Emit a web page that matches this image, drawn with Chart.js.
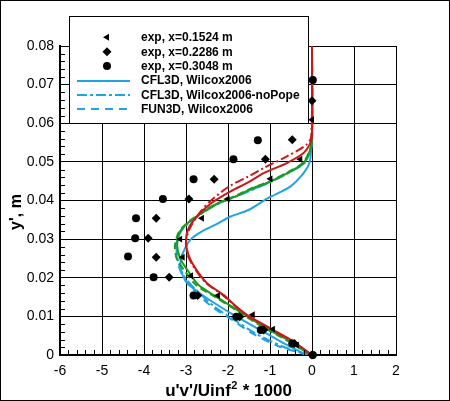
<!DOCTYPE html>
<html><head><meta charset="utf-8">
<script src="https://cdn.jsdelivr.net/npm/chart.js@4.4.1/dist/chart.umd.min.js"></script>
<style>html,body{margin:0;padding:0;background:#fff;overflow:hidden}canvas{display:block}</style>
</head><body>
<canvas id="c" width="450" height="401" style="width:450px;height:401px"></canvas>
<script>
// ---- tick values ----
const xTicks = [-6, -5, -4, -3, -2, -1, 0, 1, 2];
const yTicks = [0, 0.01, 0.02, 0.03, 0.04, 0.05, 0.06, 0.07, 0.08];
const xTickLabels = ['-6', '-5', '-4', '-3', '-2', '-1', '0', '1', '2'];
const yTickLabels = ['0', '0.01', '0.02', '0.03', '0.04', '0.05', '0.06', '0.07', '0.08'];
const xTitleMain = "u'v'/Uinf";
const xTitleSup = "2";
const xTitleTail = " * 1000";
const yTitle = "y', m";

// ---- experimental data ----
const exp1524X = [0, -0.28, -0.99, -2.01, -2.62, -3.14, -3.08, -2.88, -2.24, -1.41, -0.93, -0.36, 0];
const exp1524Y = [0.0609, 0.0507, 0.0456, 0.0404, 0.0354, 0.0300, 0.0253, 0.0205, 0.0154, 0.0104, 0.0067, 0.0026, 0];
const exp2286X = [0, -0.47, -1.11, -2.33, -2.93, -3.71, -3.90, -3.71, -3.40, -2.72, -1.72, -1.15, -0.42, 0];
const exp2286Y = [0.0658, 0.0557, 0.0507, 0.0455, 0.0404, 0.0354, 0.0302, 0.0253, 0.0201, 0.0154, 0.0099, 0.0065, 0.0030, 0];
const exp3048X = [0.02, -1.29, -1.87, -2.82, -3.55, -4.19, -4.21, -4.38, -3.77, -2.82, -1.80, -1.22, -0.47, 0.02];
const exp3048Y = [0.0712, 0.0556, 0.0507, 0.0455, 0.0404, 0.0354, 0.0302, 0.0255, 0.0201, 0.0154, 0.0099, 0.0065, 0.0030, 0];

// ---- computed profiles ----
const cflWilcoxX = [-0.12, -0.60, -1.23, -1.87, -2.50, -2.80, -3.00, -3.12, -3.12, -3.05, -2.90, -2.62, -2.25, -1.95, -1.50, -1.05, -0.52, -0.20, -0.06, -0.02, 0, 0];
const cflWilcoxY = [0, 0.0026, 0.0065, 0.0104, 0.0147, 0.0170, 0.0190, 0.0220, 0.0250, 0.0270, 0.0298, 0.0320, 0.0340, 0.0358, 0.0376, 0.0406, 0.0436, 0.0471, 0.0497, 0.0531, 0.0560, 0.0800];
const cflNoPopeX = [-0.10, -0.70, -1.35, -1.85, -2.32, -2.80, -3.08, -3.20, -3.22, -3.12, -2.84, -2.28, -1.72, -0.97, -0.50, -0.18, -0.03, 0, 0];
const cflNoPopeY = [0, 0.0022, 0.0056, 0.0091, 0.0125, 0.0173, 0.0210, 0.0250, 0.0285, 0.0320, 0.0350, 0.0389, 0.0414, 0.0449, 0.0475, 0.0497, 0.0531, 0.0560, 0.0800];
const funWilcoxX = [-0.08, -0.78, -1.42, -1.90, -2.38, -2.86, -3.10, -3.22, -3.23, -3.13, -2.86, -2.30, -1.74, -0.99, -0.52, -0.19, -0.04, 0, 0];
const funWilcoxY = [0, 0.0022, 0.0056, 0.0091, 0.0125, 0.0173, 0.0210, 0.0250, 0.0285, 0.0320, 0.0350, 0.0389, 0.0414, 0.0449, 0.0475, 0.0497, 0.0531, 0.0560, 0.0800];
const redSolidX = [0, -0.44, -0.99, -1.55, -1.85, -2.10, -2.50, -2.78, -2.94, -3.00, -2.94, -2.70, -2.40, -1.95, -1.52, -1.15, -0.60, -0.20, -0.06, 0, 0];
const redSolidY = [0, 0.0035, 0.0069, 0.0104, 0.0130, 0.0155, 0.0186, 0.0225, 0.0259, 0.0294, 0.0328, 0.0363, 0.0393, 0.0423, 0.0447, 0.0471, 0.0497, 0.0523, 0.0544, 0.0566, 0.0800];
const redDashX = [0, -0.46, -1.02, -1.58, -2.12, -2.52, -2.80, -2.96, -3.00, -2.90, -2.65, -2.35, -1.95, -1.50, -1.15, -0.60, -0.14, -0.02, 0];
const redDashY = [0, 0.0035, 0.0069, 0.0104, 0.0155, 0.0186, 0.0225, 0.0259, 0.0294, 0.0330, 0.0372, 0.0405, 0.0438, 0.0463, 0.0484, 0.0514, 0.0544, 0.0565, 0.0800];
const greenSolidX = [-0.05, -0.52, -1.15, -1.71, -2.34, -2.70, -2.94, -3.14, -3.21, -3.14, -2.86, -2.30, -1.75, -1.47, -0.99, -0.52, -0.20, -0.04, 0, 0];
const greenSolidY = [0, 0.0035, 0.0073, 0.0112, 0.0155, 0.0181, 0.0216, 0.0250, 0.0285, 0.0320, 0.0350, 0.0389, 0.0414, 0.0429, 0.0449, 0.0475, 0.0497, 0.0531, 0.0560, 0.0800];
const greenDashX = [-0.05, -0.55, -1.18, -1.75, -2.38, -2.76, -3.02, -3.22, -3.26, -3.16, -2.88, -2.32, -1.78, -1.50, -1.02, -0.55, -0.22, -0.05, 0, 0];
const greenDashY = [0, 0.0035, 0.0073, 0.0112, 0.0155, 0.0181, 0.0216, 0.0250, 0.0285, 0.0320, 0.0350, 0.0389, 0.0414, 0.0429, 0.0449, 0.0475, 0.0497, 0.0531, 0.0560, 0.0800];

const BLUE = '#1fa3e3', RED = '#c81818', GREEN = '#1c9c1c';

function pts(xs, ys) { return xs.map((x, i) => ({ x: x, y: ys[i] })); }

function marker(label, xs, ys, style, radius, rot) {
  return { label, data: pts(xs, ys), showLine: false, pointStyle: style, pointRadius: radius,
    pointRotation: rot, pointBackgroundColor: '#000', pointBorderColor: '#000', pointBorderWidth: 0,
    pointHoverRadius: radius, order: 0, clip: false };
}
function line(label, xs, ys, color, dash, order) {
  return { label, data: pts(xs, ys), showLine: true, borderColor: color, borderWidth: 2, borderDash: dash,
    pointRadius: 0, pointHoverRadius: 0, tension: 0.3, fill: false, order };
}

const datasets = [
  marker('exp, x=0.1524 m', exp1524X, exp1524Y, 'triangle', 4, -90),
  marker('exp, x=0.2286 m', exp2286X, exp2286Y, 'rectRot', 4.5, 0),
  marker('exp, x=0.3048 m', exp3048X, exp3048Y, 'circle', 4, 0),
  line('CFL3D, Wilcox2006', cflWilcoxX, cflWilcoxY, BLUE, [], 3),
  line('CFL3D, Wilcox2006-noPope', cflNoPopeX, cflNoPopeY, BLUE, [10, 3, 3, 3], 3),
  line('FUN3D, Wilcox2006', funWilcoxX, funWilcoxY, BLUE, [8, 6], 3),
  line('red solid', redSolidX, redSolidY, RED, [], 1),
  line('red dash-dot', redDashX, redDashY, RED, [9, 3, 2, 3], 1),
  line('green solid', greenSolidX, greenSolidY, GREEN, [], 2),
  line('green dashed', greenDashX, greenDashY, GREEN, [7, 4], 2)
];
const legendCount = 6;

const FONT = "'Liberation Sans', Arial, Helvetica, sans-serif";

const decor = {
  id: 'decor',
  beforeDraw(chart) {
    const ctx = chart.ctx; ctx.save(); ctx.fillStyle = '#fff'; ctx.fillRect(0, 0, chart.width, chart.height); ctx.restore();
  },
  afterDraw(chart) {
    const ctx = chart.ctx, xs = chart.scales.x, ys = chart.scales.y, ca = chart.chartArea;
    ctx.save();
    // minor ticks
    ctx.strokeStyle = '#000'; ctx.lineWidth = 1;
    ctx.beginPath();
    for (let i = 0; i <= 40; i++) {
      if (i % 5 === 0) continue;
      const v = xTicks[0] + i * 0.2;
      const px = Math.round(xs.getPixelForValue(v)) + 0.5;
      ctx.moveTo(px, ca.bottom); ctx.lineTo(px, ca.bottom - 5);
    }
    for (let i = 0; i <= 40; i++) {
      if (i % 5 === 0) continue;
      const v = i * 0.002;
      const py = Math.round(ys.getPixelForValue(v)) + 0.5;
      ctx.moveTo(ca.left, py); ctx.lineTo(ca.left + 5, py);
    }
    ctx.stroke();

    // axis titles
    ctx.fillStyle = '#000';
    ctx.font = 'bold 17px ' + FONT;
    const w1 = ctx.measureText(xTitleMain).width;
    ctx.font = 'bold 11px ' + FONT;
    const w2 = ctx.measureText(xTitleSup).width;
    ctx.font = 'bold 17px ' + FONT;
    const w3 = ctx.measureText(xTitleTail).width;
    const cx = (ca.left + ca.right) / 2;
    let sx = cx - (w1 + w2 + w3) / 2;
    const base = 396;
    ctx.textBaseline = 'alphabetic'; ctx.textAlign = 'left';
    ctx.fillText(xTitleMain, sx, base);
    ctx.font = 'bold 11px ' + FONT;
    ctx.fillText(xTitleSup, sx + w1 + 0.5, base - 7);
    ctx.font = 'bold 17px ' + FONT;
    ctx.fillText(xTitleTail, sx + w1 + w2 + 1, base);

    ctx.save();
    ctx.translate(21, 212); ctx.rotate(-Math.PI / 2);
    ctx.font = 'bold 16px ' + FONT; ctx.textAlign = 'center'; ctx.textBaseline = 'alphabetic';
    ctx.fillText(yTitle, 0, 0);
    ctx.restore();

    // legend
    const lx = 69.5, ly = 16.5, lw = 239, lh = 107;
    ctx.fillStyle = '#fff'; ctx.fillRect(lx, ly, lw, lh);
    ctx.strokeStyle = '#000'; ctx.lineWidth = 1; ctx.strokeRect(lx, ly, lw, lh);
    ctx.font = 'bold 12px ' + FONT; ctx.textBaseline = 'middle'; ctx.textAlign = 'left';
    for (let i = 0; i < legendCount; i++) {
      const ds = datasets[i];
      const ry = 37.3 + i * 14.4;
      if (!ds.showLine) {
        ctx.fillStyle = '#000'; ctx.strokeStyle = '#000';
        Chart.helpers.drawPoint(ctx, { pointStyle: ds.pointStyle, rotation: ds.pointRotation, radius: ds.pointRadius, borderWidth: 0 }, 107, ry);
      } else {
        ctx.save();
        ctx.strokeStyle = ds.borderColor; ctx.lineWidth = 2; ctx.setLineDash(ds.borderDash);
        ctx.beginPath(); ctx.moveTo(77, Math.round(ry)); ctx.lineTo(130, Math.round(ry)); ctx.stroke();
        ctx.restore();
      }
      ctx.fillStyle = '#000';
      ctx.fillText(ds.label, 141, ry + 0.5);
    }

    // outer frame
    ctx.strokeStyle = '#000'; ctx.lineWidth = 1; ctx.setLineDash([]);
    ctx.strokeRect(0.5, 0.5, chart.width - 1, chart.height - 1);
    ctx.restore();
  }
};

Chart.defaults.font.family = FONT;
Chart.defaults.color = '#000';

new Chart(document.getElementById('c'), {
  type: 'scatter',
  data: { datasets },
  options: {
    responsive: false, animation: false, devicePixelRatio: 1,
    layout: { padding: { top: 46, right: 54, left: 0, bottom: 0 } },
    plugins: { legend: { display: false }, tooltip: { enabled: false } },
    events: [],
    scales: {
      x: {
        type: 'linear', min: xTicks[0], max: xTicks[xTicks.length - 1],
        afterBuildTicks: s => { s.ticks = xTicks.map(v => ({ value: v })); },
        afterFit: s => { s.height = 46; },
        ticks: { callback: (v, i) => xTickLabels[i], font: { size: 14 }, padding: 8, maxRotation: 0, autoSkip: false },
        grid: { color: '#000', lineWidth: 1, drawTicks: false },
        border: { display: true, color: '#000', width: 2 }
      },
      y: {
        type: 'linear', min: yTicks[0], max: yTicks[yTicks.length - 1],
        afterBuildTicks: s => { s.ticks = yTicks.map(v => ({ value: v })); },
        afterFit: s => { s.width = 60; },
        ticks: { callback: (v, i) => yTickLabels[i], font: { size: 14 }, padding: 6, autoSkip: false },
        grid: { color: '#000', lineWidth: 1, drawTicks: false },
        border: { display: true, color: '#000', width: 2 }
      }
    }
  },
  plugins: [decor]
});
</script>
</body></html>
